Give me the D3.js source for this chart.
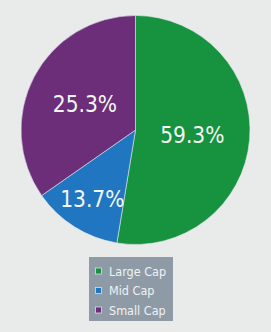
<!DOCTYPE html>
<html>
<head>
<meta charset="utf-8">
<script src="https://cdn.jsdelivr.net/npm/d3@7"></script>
<style>
  html, body { margin: 0; padding: 0; background: #e9ebeb; }
  svg { display: block; }
</style>
</head>
<body>
<svg id="chart" viewBox="0 0 271 332" width="271" height="332"></svg>
<script>
// categories, slice shares (as drawn) and the printed labels
var categories = ["Large Cap", "Mid Cap", "Small Cap"];
var shares = [52.6, 12.7, 34.7];
var labels = ["59.3%", "13.7%", "25.3%"];
var colors = ["#17923f", "#2176c1", "#6c2d79"];

var svg = d3.select("#chart"),
    cx = 135.5,
    cy = 130,
    radius = 114.5;

var data = categories.map(function(c, i) {
    return {name: c, value: shares[i], label: labels[i], color: colors[i]};
});

var pie = d3.pie()
    .sort(null)
    .value(function(d) { return d.value; });

var arc = d3.arc().innerRadius(0).outerRadius(radius);

var g = svg.append("g")
    .attr("transform", "translate(" + cx + "," + cy + ")");

var slices = pie(data);

g.selectAll("path.slice")
    .data(slices)
    .enter().append("path")
    .attr("class", "slice")
    .attr("d", arc)
    .attr("fill", function(d) { return d.data.color; })
    .attr("stroke", "#dfe6ea")
    .attr("stroke-width", 0.6);

// labels sit a bit further out on the small slice
function labelPos(d) {
    var r = d.endAngle - d.startAngle < 1 ? 81 : 57;
    var a = (d.startAngle + d.endAngle) / 2;
    return [Math.sin(a) * r, -Math.cos(a) * r];
}

g.selectAll("text.pct")
    .data(slices)
    .enter().append("text")
    .attr("class", "pct")
    .attr("x", function(d) { return labelPos(d)[0]; })
    .attr("y", function(d) { return labelPos(d)[1]; })
    .attr("dy", "0.36em")
    .attr("text-anchor", "middle")
    .attr("fill", "#f4f7f4")
    .style("font-family", "'DejaVu Sans Condensed', 'DejaVu Sans', sans-serif")
    .style("font-size", "22.5px")
    .text(function(d) { return d.data.label; });

// legend box
var legend = svg.append("g").attr("transform", "translate(89,257)");
legend.append("rect")
    .attr("width", 84)
    .attr("height", 64)
    .attr("fill", "#8e9ba6");

var y = d3.scalePoint().domain(categories).range([14, 53]);

var items = legend.selectAll("g.item")
    .data(data)
    .enter().append("g")
    .attr("class", "item")
    .attr("transform", function(d) { return "translate(0," + y(d.name) + ")"; });

items.append("rect")
    .attr("x", 6.5)
    .attr("y", -3)
    .attr("width", 6)
    .attr("height", 6)
    .attr("fill", function(d) { return d.color; })
    .attr("stroke", "#d8e0e6")
    .attr("stroke-width", 0.8);

items.append("text")
    .attr("x", 20)
    .attr("dy", "0.36em")
    .attr("fill", "#eef2f5")
    .style("font-family", "'DejaVu Sans Condensed', 'DejaVu Sans', sans-serif")
    .style("font-size", "12.5px")
    .text(function(d) { return d.name; });
</script>
</body>
</html>
